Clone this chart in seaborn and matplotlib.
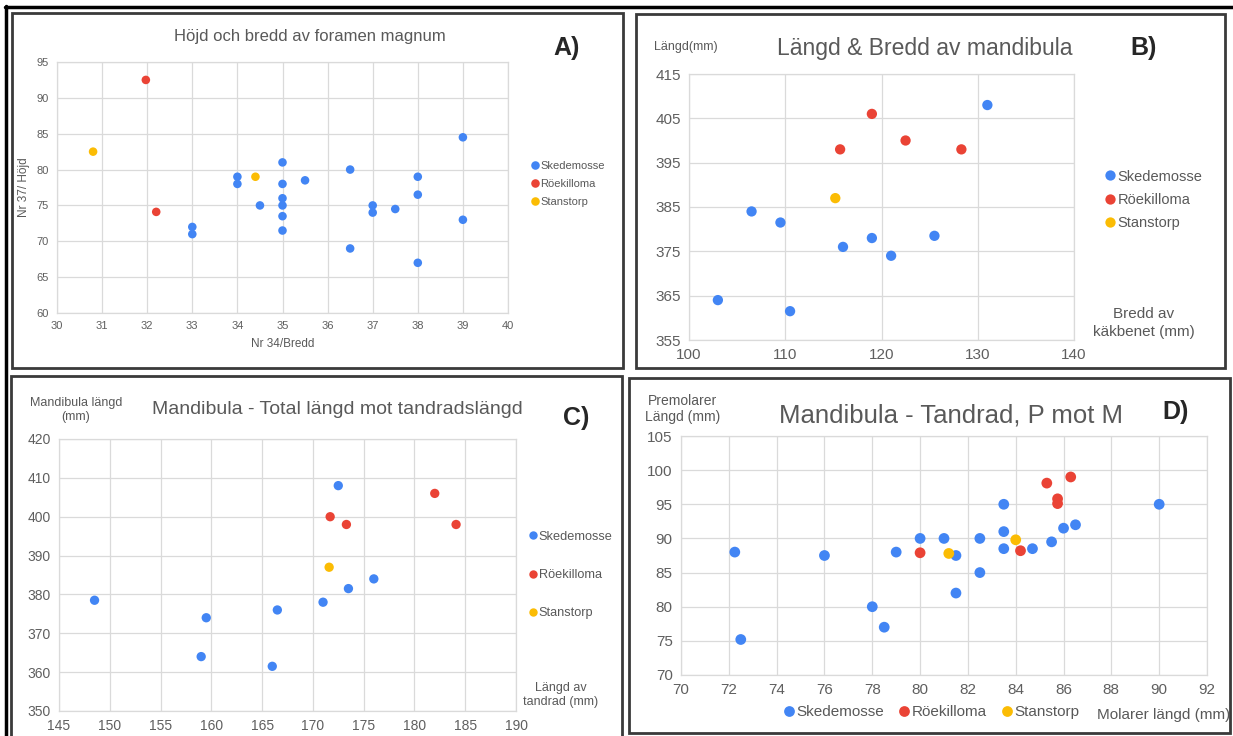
import matplotlib
matplotlib.use("Agg")
import matplotlib.pyplot as plt
import seaborn as sns
import pandas as pd
from matplotlib.patches import Rectangle
from matplotlib.lines import Line2D

# ---------------- data ----------------
sites = ["Skedemosse", "Röekilloma", "Stanstorp"]
colors = ["#4285F4", "#EA4335", "#FBBC04"]

# A) Höjd och bredd av foramen magnum (x = Bredd, y = Höjd)
a_sked_x = [33, 33, 34, 34, 34.5, 35, 35, 35, 35, 35, 35, 35.5, 36.5, 36.5, 37, 37, 37.5, 38, 38, 38, 39, 39]
a_sked_y = [72, 71, 79, 78, 75, 81, 78, 76, 75, 73.5, 71.5, 78.5, 80, 69, 75, 74, 74.5, 79, 76.5, 67, 84.5, 73]
a_roek_x = [31.97, 32.2]
a_roek_y = [92.5, 74.1]
a_stan_x = [30.8, 34.4]
a_stan_y = [82.5, 79]

# B) Längd & Bredd av mandibula
b_sked_x = [103, 106.5, 109.5, 110.5, 116, 119, 121, 125.5, 131]
b_sked_y = [364, 384, 381.5, 361.5, 376, 378, 374, 378.5, 408]
b_roek_x = [115.7, 119, 122.5, 128.3]
b_roek_y = [398, 406, 400, 398]
b_stan_x = [115.2]
b_stan_y = [387]

# C) Mandibula - Total längd mot tandradslängd
c_sked_x = [148.5, 159, 159.5, 166, 166.5, 171, 172.5, 173.5, 176]
c_sked_y = [378.5, 364, 374, 361.5, 376, 378, 408, 381.5, 384]
c_roek_x = [171.7, 173.3, 182, 184.1]
c_roek_y = [400, 398, 406, 398]
c_stan_x = [171.6]
c_stan_y = [387]

# D) Mandibula - Tandrad, P mot M
d_sked_x = [72.25, 72.5, 76, 78, 78.5, 79, 80, 81, 81.5, 81.5, 82.5, 82.5, 83.5, 83.5, 83.5, 84.7, 85.5, 86, 86.5, 90]
d_sked_y = [88, 75.2, 87.5, 80, 77, 88, 90, 90, 87.5, 82, 90, 85, 95, 91, 88.5, 88.5, 89.5, 91.5, 92, 95]
d_roek_x = [80, 84.2, 85.3, 85.75, 85.75, 86.3]
d_roek_y = [87.9, 88.2, 98.1, 95.8, 95.1, 99]
d_stan_x = [81.2, 84]
d_stan_y = [87.8, 89.8]


def frame(groups):
    rows = []
    for site, (xs, ys) in zip(sites, groups):
        for x, y in zip(xs, ys):
            rows.append({"x": x, "y": y, "Plats": site})
    return pd.DataFrame(rows)


dfA = frame([(a_sked_x, a_sked_y), (a_roek_x, a_roek_y), (a_stan_x, a_stan_y)])
dfB = frame([(b_sked_x, b_sked_y), (b_roek_x, b_roek_y), (b_stan_x, b_stan_y)])
dfC = frame([(c_sked_x, c_sked_y), (c_roek_x, c_roek_y), (c_stan_x, c_stan_y)])
dfD = frame([(d_sked_x, d_sked_y), (d_roek_x, d_roek_y), (d_stan_x, d_stan_y)])

# ---------------- style ----------------
sns.set_theme(style="white")
plt.rcParams["font.family"] = ["Liberation Sans", "DejaVu Sans"]

W, H = 1233, 736
fig = plt.figure(figsize=(W / 100, H / 100), dpi=100)
fig.patch.set_facecolor("white")
palette = dict(zip(sites, colors))
GRID = "#dadada"
TICK = "#5f5f5f"
TEXT = "#595959"


def fx(x):
    return x / W


def fy(y):
    return 1 - y / H


def make_ax(x0, y0, x1, y1):
    return fig.add_axes([fx(x0), fy(y1), (x1 - x0) / W, (y1 - y0) / H])


def style_ax(ax, xlim, ylim, xstep, ystep, fs):
    ax.set_xlim(*xlim)
    ax.set_ylim(*ylim)
    xt = []
    v = xlim[0]
    while v <= xlim[1] + 1e-9:
        xt.append(v)
        v += xstep
    yt = []
    v = ylim[0]
    while v <= ylim[1] + 1e-9:
        yt.append(v)
        v += ystep
    ax.set_xticks(xt)
    ax.set_yticks(yt)
    ax.grid(True, color=GRID, linewidth=0.9)
    ax.set_axisbelow(True)
    for s in ax.spines.values():
        s.set_color(GRID)
        s.set_linewidth(0.9)
    ax.tick_params(axis="both", length=0, labelsize=fs, labelcolor=TICK, pad=6)
    ax.set_xlabel("")
    ax.set_ylabel("")


def scatter(ax, df, s):
    sns.scatterplot(data=df, x="x", y="y", hue="Plats", hue_order=sites,
                    palette=palette, s=s, linewidth=0, ax=ax, legend=True, zorder=3)


# ---------------- Panel A ----------------
axA = make_ax(57, 62, 508, 313)
scatter(axA, dfA, 38)
style_ax(axA, (30, 40), (60, 95), 1, 5, 8)
sns.move_legend(axA, loc="center left", bbox_to_anchor=(fx(525), fy(184)),
                bbox_transform=fig.transFigure, title=None, frameon=False,
                fontsize=8, labelspacing=0.75, handletextpad=0.1, handlelength=0.8,
                borderpad=0, markerscale=1.0, labelcolor=TEXT)
fig.text(fx(310), fy(37), "Höjd och bredd av foramen magnum", ha="center", va="center",
         fontsize=12, color=TEXT)
fig.text(fx(567), fy(48), "A)", ha="center", va="center", fontsize=18, fontweight="bold")
fig.text(fx(24), fy(187), "Nr 37/ Höjd", ha="center", va="center", rotation=90,
         fontsize=8.5, color=TEXT)
fig.text(fx(283), fy(344), "Nr 34/Bredd", ha="center", va="center", fontsize=8.5, color=TEXT)

# ---------------- Panel B ----------------
axB = make_ax(689, 74, 1074, 340)
scatter(axB, dfB, 55)
style_ax(axB, (100, 140), (355, 415), 10, 10, 11)
sns.move_legend(axB, loc="center left", bbox_to_anchor=(fx(1097), fy(200)),
                bbox_transform=fig.transFigure, title=None, frameon=False,
                fontsize=10.5, labelspacing=0.65, handletextpad=0.1, handlelength=0.8,
                borderpad=0, markerscale=1.0, labelcolor=TEXT)
fig.text(fx(925), fy(48), "Längd & Bredd av mandibula", ha="center", va="center",
         fontsize=16.5, color=TEXT)
fig.text(fx(1144), fy(48), "B)", ha="center", va="center", fontsize=18, fontweight="bold")
fig.text(fx(686), fy(47), "Längd(mm)", ha="center", va="center", fontsize=9, color=TEXT)
fig.text(fx(1144), fy(323), "Bredd av\nkäkbenet (mm)", ha="center", va="center",
         fontsize=11, color=TEXT, linespacing=1.3)

# ---------------- Panel C ----------------
axC = make_ax(59, 439, 516, 711)
scatter(axC, dfC, 45)
style_ax(axC, (145, 190), (350, 420), 5, 10, 10)
sns.move_legend(axC, loc="center left", bbox_to_anchor=(fx(521), fy(575)),
                bbox_transform=fig.transFigure, title=None, frameon=False,
                fontsize=9.2, labelspacing=2.05, handletextpad=0.1, handlelength=0.8,
                borderpad=0, markerscale=0.9, labelcolor=TEXT)
fig.text(fx(337), fy(410), "Mandibula - Total längd mot tandradslängd", ha="center",
         va="center", fontsize=14, color=TEXT)
fig.text(fx(576), fy(418), "C)", ha="center", va="center", fontsize=18, fontweight="bold")
fig.text(fx(76), fy(410), "Mandibula längd\n(mm)", ha="center", va="center",
         fontsize=9, color=TEXT, linespacing=1.3)
fig.text(fx(561), fy(695), "Längd av\ntandrad (mm)", ha="center", va="center",
         fontsize=9, color=TEXT, linespacing=1.3)

# ---------------- Panel D ----------------
axD = make_ax(681, 436, 1207, 675)
scatter(axD, dfD, 60)
style_ax(axD, (70, 92), (70, 105), 2, 5, 11)
sns.move_legend(axD, loc="center", bbox_to_anchor=(fx(931), fy(712)),
                bbox_transform=fig.transFigure, title=None, frameon=False, ncol=3,
                fontsize=11, columnspacing=0.9, handletextpad=0.1, handlelength=0.8,
                borderpad=0, markerscale=1.0, labelcolor=TEXT)
fig.text(fx(951), fy(415), "Mandibula - Tandrad, P mot M", ha="center", va="center",
         fontsize=18.5, color=TEXT)
fig.text(fx(1176), fy(412), "D)", ha="center", va="center", fontsize=18, fontweight="bold")
fig.text(fx(683), fy(409), "Premolarer\nLängd (mm)", ha="center", va="center",
         fontsize=10, color=TEXT, linespacing=1.2)
fig.text(fx(1164), fy(715), "Molarer längd (mm)", ha="center", va="center",
         fontsize=11, color=TEXT)

# ---------------- panel frames ----------------
def box(x0, y0, x1, y1, color="#3a3a3a", lw=2.0):
    fig.add_artist(Rectangle((fx(x0), fy(y1)), (x1 - x0) / W, (y1 - y0) / H,
                             transform=fig.transFigure, fill=False,
                             edgecolor=color, linewidth=lw))

box(12, 13, 623, 368)
box(636, 14, 1225, 368)
box(11, 376, 622, 740)
box(629, 378, 1230, 733)
fig.add_artist(Line2D([fx(5), fx(1233)], [fy(7), fy(7)], transform=fig.transFigure,
                      color="black", linewidth=2.5))
fig.add_artist(Line2D([fx(6), fx(6)], [fy(6), fy(736)], transform=fig.transFigure,
                      color="black", linewidth=2.5))

fig.savefig("out.png", dpi=100, facecolor="white")
